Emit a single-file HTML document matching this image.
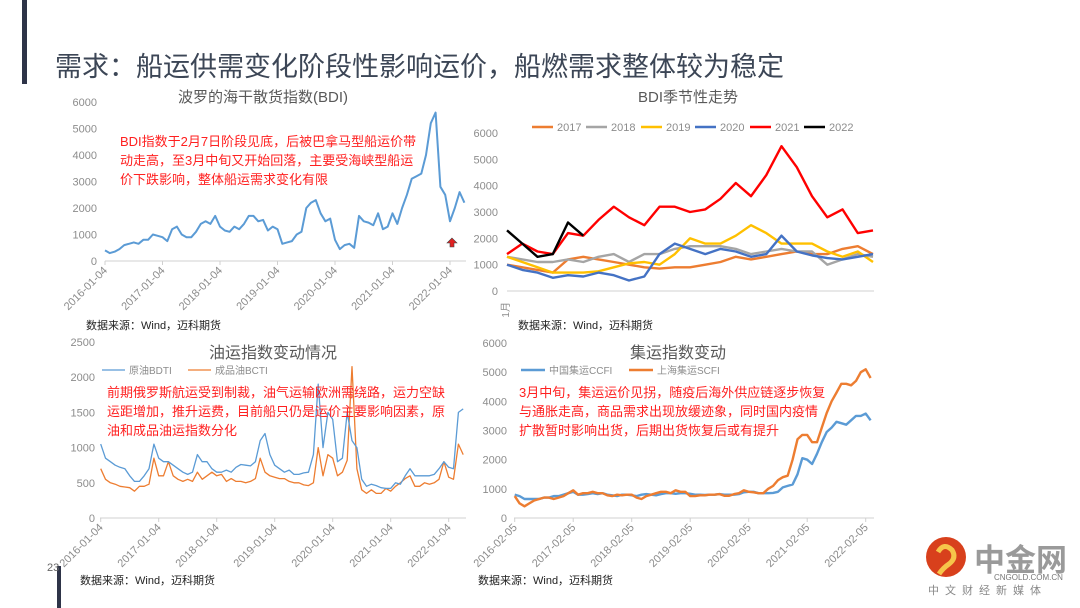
<!DOCTYPE html>
<html><head><meta charset="utf-8">
<style>
body{margin:0;background:#fff;}
#wrap{position:relative;width:1080px;height:608px;overflow:hidden;background:#fff;font-family:"Liberation Sans","Noto Sans CJK SC",sans-serif;}
svg text{font-family:"Liberation Sans","Noto Sans CJK SC",sans-serif;}
</style></head>
<body>
<div id="wrap">
<svg id="s" width="1080" height="608" viewBox="0 0 1080 608">
<rect x="22" y="0" width="5" height="84" fill="#2e3448"/>
<rect x="57" y="566" width="4" height="42" fill="#2e3448"/>
<text x="55" y="76" font-size="27" fill="#3c4656">需求：船运供需变化阶段性影响运价，船燃需求整体较为稳定</text>
<text x="47" y="571" font-size="11" fill="#666">23</text>

<text x="263" y="102" font-size="15" fill="#595959" text-anchor="middle">波罗的海干散货指数(BDI)</text>
<text x="688" y="102" font-size="15" fill="#595959" text-anchor="middle">BDI季节性走势</text>
<text x="273" y="358" font-size="16" fill="#595959" text-anchor="middle">油运指数变动情况</text>
<text x="678" y="358" font-size="16" fill="#595959" text-anchor="middle">集运指数变动</text>

<text x="86" y="329" font-size="11" fill="#222">数据来源：Wind，迈科期货</text>
<text x="518" y="329" font-size="11" fill="#222">数据来源：Wind，迈科期货</text>
<text x="80" y="584" font-size="11" fill="#222">数据来源：Wind，迈科期货</text>
<text x="478" y="584" font-size="11" fill="#222">数据来源：Wind，迈科期货</text>

<g id="g1"></g>
<g id="g2"></g>
<g id="g3"></g>
<g id="g4"></g>

<g font-size="13" fill="#ff2020">
<text x="120" y="146">BDI指数于2月7日阶段见底，后被巴拿马型船运价带</text>
<text x="120" y="165">动走高，至3月中旬又开始回落，主要受海峡型船运</text>
<text x="120" y="184">价下跌影响，整体船运需求变化有限</text>
</g>
<path d="M452 238 l-5 5 h3 v4 h4 v-4 h3 z" fill="#e02020" stroke="#444" stroke-width="0.6"/>
<g font-size="13" fill="#ff2020">
<text x="107" y="397">前期俄罗斯航运受到制裁，油气运输欧洲需绕路，运力空缺</text>
<text x="107" y="416">运距增加，推升运费，目前船只仍是运价主要影响因素，原</text>
<text x="107" y="435">油和成品油运指数分化</text>
</g>
<g font-size="13" fill="#ff2020">
<text x="519" y="397">3月中旬，集运运价见拐，随疫后海外供应链逐步恢复</text>
<text x="519" y="416">与通胀走高，商品需求出现放缓迹象，同时国内疫情</text>
<text x="519" y="435">扩散暂时影响出货，后期出货恢复后或有提升</text>
</g>

<g>
<circle cx="946" cy="557" r="20" fill="#d8401c"/>
<path d="M938 552 q6 -10 14 -2 q5 8 -3 14 q-6 4 -10 10" stroke="#f6c54a" stroke-width="5" fill="none"/>
<text x="974" y="571" font-size="31" fill="#9a9a9a" font-weight="bold">中金网</text>
<text x="994" y="580" font-size="8" fill="#777">CNGOLD.COM.CN</text>
<text x="928" y="594" font-size="11" fill="#888" letter-spacing="6">中文财经新媒体</text>
</g>
</svg>
</div>
<script>
// ===== BDI monthly 2016-01 .. 2022-04
const bdiValues=[400,300,350,450,600,650,700,650,800,800,1000,950,
900,750,1200,1300,1000,900,900,1100,1400,1500,1400,1700,
1300,1150,1100,1300,1200,1400,1700,1700,1500,1550,1150,1300,
1200,650,700,750,1000,1100,2000,2200,2300,1800,1500,1600,
800,450,600,650,500,1700,1500,1450,1350,1800,1200,1300,
1800,1400,2000,2500,3100,3200,3300,4000,5200,5600,2800,2500,
1500,2000,2600,2200];
const yearTicks=['2016-01-04','2017-01-04','2018-01-04','2019-01-04','2020-01-04','2021-01-04','2022-01-04'];
const bdiYTicks=[0,1000,2000,3000,4000,5000,6000];
// ===== Seasonal (25 semi-monthly points per year)
const seasonYears=['2017','2018','2019','2020','2021','2022'];
const s2017=[1000,900,800,700,1200,1300,1200,1100,1000,900,850,900,900,1000,1100,1300,1200,1300,1400,1500,1400,1400,1600,1700,1400];
const s2018=[1300,1200,1100,1100,1200,1100,1300,1400,1100,1400,1400,1600,1700,1700,1700,1600,1400,1500,1600,1500,1500,1000,1200,1400,1300];
const s2019=[1300,1100,900,700,700,700,750,900,1050,1100,1000,1400,2000,1800,1800,2100,2500,2200,1800,1800,1800,1500,1300,1500,1100];
const s2020=[1000,800,700,500,600,550,700,600,400,550,1400,1800,1600,1400,1600,1500,1300,1400,2100,1500,1350,1250,1200,1300,1400];
const s2021=[1400,1800,1500,1400,2200,2100,2700,3200,2800,2500,3200,3200,3000,3100,3500,4100,3600,4400,5500,4700,3600,2800,3100,2200,2300];
const s2022=[2300,1800,1300,1400,2600,2100];
const seasonYTicks=[0,1000,2000,3000,4000,5000,6000];
// ===== Oil monthly 2016-01 .. 2022-04
const bdtiValues=[1050,850,800,750,720,700,600,520,520,600,700,1050,
850,800,800,750,700,650,620,650,900,800,800,700,
650,650,680,650,720,760,750,740,800,1100,1200,900,
750,700,650,680,620,620,640,650,900,1900,1000,1500,
1400,800,850,1500,1100,1000,550,450,480,460,430,420,
420,500,480,600,700,600,600,600,600,620,700,800,
720,700,1500,1550];
const bctiValues=[700,550,500,480,450,440,430,380,450,450,480,850,
600,600,800,600,550,520,550,520,650,550,600,650,
600,620,520,560,520,520,500,520,560,850,650,600,
580,560,560,520,500,500,470,460,500,1000,600,900,
850,600,650,820,2150,700,400,350,400,350,350,420,
380,450,500,560,600,450,450,500,480,500,550,800,
580,550,1050,900];
const oilYTicks=[0,500,1000,1500,2000,2500];
// ===== Container monthly 2016-02 .. 2022-03
const ccfiValues=[800,750,650,650,650,650,700,700,750,750,800,
850,900,800,800,820,850,820,850,800,780,750,800,
800,780,750,800,820,800,780,820,850,850,830,850,
850,830,800,800,790,800,800,820,800,800,800,820,
880,900,900,850,850,850,860,900,1050,1100,1150,1500,
2050,2000,1850,2200,2600,2950,3100,3300,3250,3200,3350,3500,
3500,3580,3350];
const scfiValues=[750,500,400,500,600,650,700,700,650,700,750,
850,950,800,850,850,900,850,850,780,750,800,780,
800,800,700,650,750,800,850,900,900,850,950,900,
900,750,750,780,780,800,800,820,760,760,820,850,
950,900,880,850,850,1000,1100,1300,1400,1450,2000,2700,
2850,2850,2600,2600,3100,3600,4000,4300,4600,4600,4550,4700,
5000,5100,4800];
const contTicks=['2016-02-05','2017-02-05','2018-02-05','2019-02-05','2020-02-05','2021-02-05','2022-02-05'];
const contYTicks=[0,1000,2000,3000,4000,5000,6000];

const NS='http://www.w3.org/2000/svg';
function mk(tag,parent,attrs){const e=document.createElementNS(NS,tag);for(const k in attrs)e.setAttribute(k,attrs[k]);parent.appendChild(e);return e;}
function scale(d0,d1,r0,r1){return v=>r0+(v-d0)/(d1-d0)*(r1-r0);}

function axes(g,opt){
  const base=mk('line',g,{x1:opt.x0,x2:opt.x1,y1:opt.y(0),y2:opt.y(0),stroke:'#d0d0d0','stroke-width':1});
  
  
  opt.yTicks.forEach(v=>{
    const t=mk('text',g,{x:opt.lx,y:opt.y(v)+4,'font-size':opt.fs||11,fill:'#8c8c8c','text-anchor':'end'});
    t.textContent=v;
    
    
  });
  if(opt.xTicks){opt.xTicks.forEach((lab,i)=>{
    const tx=opt.tx(i);
    const tk=mk('line',g,{x1:tx,x2:tx,y1:opt.y(0),y2:opt.y(0)+4,stroke:'#d0d0d0'});
    
    
    const t=mk('text',g,{x:tx+3,y:opt.y(0)+10,'font-size':11,fill:'#8c8c8c','text-anchor':'end',transform:`rotate(-45 ${tx+3} ${opt.y(0)+10})`});
    t.textContent=lab;
    
    
  });}
}
function line(g,vals,xf,yf,color,w,name){
  const d=vals.map((v,i)=>(i?'L':'M')+xf(i).toFixed(1)+' '+yf(v).toFixed(1)).join(' ');
  const p=mk('path',g,{d:d,fill:'none',stroke:color,'stroke-width':w,'stroke-linejoin':'round'});
  
  
}
function legend(g,x,y,color,label,w,fs,len){
  const l=mk('line',g,{x1:x,x2:x+len,y1:y,y2:y,stroke:color,'stroke-width':w});
  
  
  const t=mk('text',g,{x:x+len+4,y:y+4,'font-size':fs,fill:'#8c8c8c'});
  t.textContent=label;
  
  
}

// Chart 1
(function(){
  const g=document.getElementById('g1');
  const y=scale(0,6000,261,102);
  const step=57.5/12;
  const x=i=>105+i*step;
  axes(g,{x0:105,x1:466,y:y,lx:97,yTicks:bdiYTicks,xTicks:yearTicks,tx:i=>105+i*57.5});
  line(g,bdiValues,x,y,'#5b9bd5',2,'bdi-line');
})();
// Chart 2
(function(){
  const g=document.getElementById('g2');
  const y=scale(0,6000,291,133);
  const x=i=>507+i*(366/24);
  axes(g,{x0:507,x1:874,y:y,lx:498,yTicks:seasonYTicks});
  const m=mk('text',g,{x:509,y:302,'font-size':10,fill:'#8c8c8c',transform:'rotate(-90 509 302)','text-anchor':'end'});
  m.textContent='1月';
  
  
  const colors=['#ed7d31','#a5a5a5','#ffc000','#4472c4','#ff0000','#000000'];
  const series=[s2017,s2018,s2019,s2020,s2021,s2022];
  series.forEach((s,k)=>line(g,s,x,y,colors[k],2.4,'season-line-'+seasonYears[k]));
  const lx=[532,586,641,695,750,804];
  seasonYears.forEach((yr,k)=>legend(g,lx[k],127,colors[k],yr,2.5,11,21));
})();
// Chart 3
(function(){
  const g=document.getElementById('g3');
  const y=scale(0,2500,518,342);
  const x=i=>100.7+i*(58/12);
  axes(g,{x0:100,x1:466,y:y,lx:95,yTicks:oilYTicks,xTicks:yearTicks,tx:i=>100.7+i*58});
  line(g,bctiValues,x,y,'#ed7d31',1.3,'bcti-line');
  line(g,bdtiValues,x,y,'#5b9bd5',1.3,'bdti-line');
  legend(g,102,370,'#5b9bd5','原油BDTI',1.3,10,23);
  legend(g,188,370,'#ed7d31','成品油BCTI',1.3,10,23);
})();
// Chart 4
(function(){
  const g=document.getElementById('g4');
  const y=scale(0,6000,518,343);
  const x=i=>514.7+i*(58.5/12);
  axes(g,{x0:514,x1:874,y:y,lx:507,yTicks:contYTicks,xTicks:contTicks,tx:i=>514.7+i*58.5});
  line(g,ccfiValues,x,y,'#5b9bd5',2.4,'ccfi-line');
  line(g,scfiValues,x,y,'#ed7d31',2.4,'scfi-line');
  legend(g,521,370,'#5b9bd5','中国集运CCFI',2.5,10,24);
  legend(g,629,370,'#ed7d31','上海集运SCFI',2.5,10,24);
})();
</script>
</body></html>
